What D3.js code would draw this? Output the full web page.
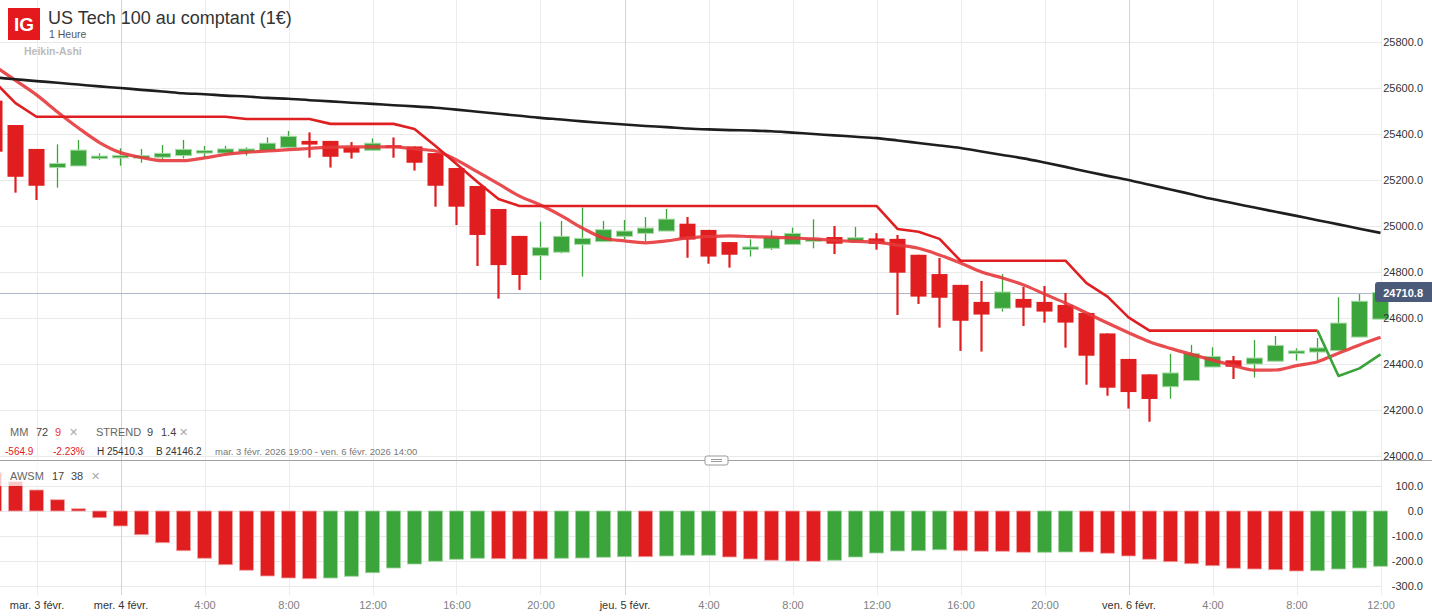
<!DOCTYPE html>
<html><head><meta charset="utf-8">
<script src="https://cdn.jsdelivr.net/npm/d3@7"></script>
<style>
html,body{margin:0;padding:0;background:#fff;overflow:hidden}
svg{display:block;font-family:"Liberation Sans",Arial,sans-serif}
</style></head><body>
<svg id="c" width="1432" height="616"></svg>
<script>
// ---------- data ----------
const firstCandle = Date.UTC(2026, 1, 3, 18); // mar. 3 févr. 18:00, one candle per hour
const opens  = [25545,25439,25335,25254,25261,25293,25297,25297,25299,25306,25317,25317,25322,25328,25342,25370,25370,25342,25329,25351,25346,25317,25252,25174,25074,24957,24871,24886,24920,24932,24955,24968,24978,25010,24983,24930,24902,24903,24920,24936,24952,24935,24946,24944,24875,24791,24744,24670,24642,24683,24670,24657,24622,24533,24422,24355,24301,24328,24387,24416,24400,24412,24446,24452,24458,24517,24595];
const highs  = [25545,25439,25335,25355,25374,25316,25338,25335,25352,25374,25348,25348,25342,25385,25413,25407,25370,25365,25381,25385,25346,25317,25252,25174,25074,24957,25019,25022,25080,25022,25026,25039,25074,25039,24983,24930,24942,24981,24993,25029,25000,24996,24969,24961,24875,24861,24744,24761,24791,24736,24739,24709,24622,24533,24422,24355,24444,24483,24473,24435,24504,24522,24468,24513,24690,24704,24711];
const lows   = [25323,25145,25113,25167,25261,25287,25262,25275,25287,25294,25299,25313,25306,25328,25342,25297,25254,25293,25329,25297,25241,25084,25004,24826,24684,24722,24765,24881,24780,24932,24943,24932,24978,24862,24836,24819,24867,24896,24920,24903,24878,24932,24897,24613,24661,24558,24457,24454,24628,24565,24580,24471,24310,24262,24206,24149,24249,24328,24387,24335,24341,24412,24415,24417,24458,24517,24595];
const closes = [25323,25214,25175,25272,25330,25304,25307,25306,25316,25333,25328,25335,25335,25360,25390,25354,25301,25319,25360,25341,25275,25175,25084,24961,24830,24787,24906,24955,24946,24984,24978,24991,25030,24941,24867,24875,24909,24951,24968,24944,24923,24949,24922,24797,24693,24688,24588,24615,24713,24645,24628,24580,24436,24297,24278,24248,24361,24446,24433,24388,24426,24481,24457,24470,24578,24673,24710.8];
const ma72   = [25646,25638,25630,25623,25615,25607,25600,25592,25585,25577,25573,25567,25563,25557,25553,25547,25542,25536,25531,25525,25520,25514,25506,25497,25488,25479,25470,25463,25455,25448,25441,25435,25430,25424,25420,25417,25415,25412,25406,25400,25394,25388,25382,25372,25361,25350,25339,25324,25309,25294,25276,25257,25237,25218,25200,25179,25159,25138,25117,25099,25080,25062,25044,25025,25007,24988,24970];
const ma9    = [25696,25633,25570,25496,25426,25363,25319,25298,25284,25284,25296,25311,25320,25326,25332,25337,25343,25344,25344,25344,25335,25326,25287,25235,25183,25130,25091,25044,24991,24948,24935,24927,24935,24948,24954,24957,24954,24952,24948,24944,24937,24933,24930,24917,24903,24874,24839,24800,24774,24744,24704,24665,24622,24578,24536,24497,24468,24442,24417,24393,24373,24374,24393,24410,24447,24483,24516];
const strend = [25627,25534,25475,25475,25475,25475,25475,25475,25475,25475,25475,25475,25465,25465,25465,25465,25444,25444,25444,25444,25422,25348,25270,25191,25117,25087,25087,25087,25087,25087,25087,25087,25087,25087,25087,25087,25087,25087,25087,25087,25087,25087,25087,24987,24975,24944,24849,24849,24849,24849,24849,24849,24752,24693,24603,24545,24545,24545,24545,24545,24545,24545,24545,24545,24348,24381,24442];
const strendFlip = 63; // supertrend turns bullish (green) after this candle
const awsm   = [154,117,84,45,9,-27,-60,-95,-127,-159,-189,-215,-237,-260,-268,-271,-268,-261,-247,-228,-212,-201,-193,-189,-191,-192,-192,-189,-188,-185,-183,-183,-180,-177,-177,-184,-192,-197,-200,-201,-197,-184,-168,-160,-159,-155,-159,-161,-161,-165,-165,-164,-164,-169,-180,-193,-203,-211,-219,-229,-232,-235,-240,-239,-232,-228,-221];
const awsmDir = "RRRRRRRRRRRRRRRR" + "GGGGGGGG" + "RRR" + "GGGG" + "R" + "GGG" + "RRRRR" + "GGGGGG" + "RRRR" + "GG" + "RRRRRRRRRRR" + "GGGG";
const priceTicks = [24000,24200,24400,24600,24800,25000,25200,25400,25600,25800];
const oscTicks = [100,0,-100,-200,-300];
const firstTick = Date.UTC(2026, 1, 3, 20);
const timeTickLabels = ["mar. 3 févr.","mer. 4 févr.","4:00","8:00","12:00","16:00","20:00","jeu. 5 févr.","4:00","8:00","12:00","16:00","20:00","ven. 6 févr.","4:00","8:00","12:00"];
const dayTickLabels = ["mer. 4 févr.","jeu. 5 févr.","ven. 6 févr."];
const lastPrice = 24710.8;

// ---------- setup ----------
const H = 3600e3;
const times = opens.map((_, i) => new Date(firstCandle + i * H));
const W = 1432;
const svg = d3.select("#c");
const RED = "#e01d1f", GREEN = "#3ba53b", GREEN_EDGE = "#a9dba9";

const x = d3.scaleTime().domain([times[0], times[times.length - 1]]).range([-5.5, 1380.5]);
const y = d3.scaleLinear().domain([24000, 26000]).range([456, -4]);
const yo = d3.scaleLinear().domain([-300, 100]).range([586, 486]);

const tickTimes = timeTickLabels.map((_, i) => new Date(firstTick + i * 4 * H));

// grid
const grid = svg.append("g");
grid.selectAll("line.h").data(priceTicks.concat([26000])).join("line")
  .attr("x1", 0).attr("x2", 1381).attr("y1", d => Math.round(y(d)) + 0.5).attr("y2", d => Math.round(y(d)) + 0.5)
  .attr("stroke", "#e9e9e9");
grid.selectAll("line.o").data(oscTicks).join("line")
  .attr("x1", 0).attr("x2", 1381).attr("y1", d => Math.round(yo(d)) + 0.5).attr("y2", d => Math.round(yo(d)) + 0.5)
  .attr("stroke", "#e9e9e9");
grid.selectAll("line.v").data(tickTimes).join("line")
  .attr("x1", d => Math.round(x(d)) + 0.5).attr("x2", d => Math.round(x(d)) + 0.5)
  .attr("y1", 0).attr("y2", 595)
  .attr("stroke", (d, i) => dayTickLabels.includes(timeTickLabels[i]) ? "#d3d3d3" : "#ececec");

// clips
svg.append("clipPath").attr("id", "mainclip").append("rect").attr("x", 0).attr("y", 0).attr("width", W).attr("height", 459);
svg.append("clipPath").attr("id", "oscclip").append("rect").attr("x", 0).attr("y", 461).attr("width", W).attr("height", 140);

const main = svg.append("g").attr("clip-path", "url(#mainclip)");

// last price line
main.append("line").attr("x1", 0).attr("x2", 1376)
  .attr("y1", Math.round(y(lastPrice)) + 0.5).attr("y2", Math.round(y(lastPrice)) + 0.5)
  .attr("stroke", "#aeb7c6").attr("stroke-width", 1);

// candles
const idx = d3.range(opens.length);
const bw = 16;
const cg = main.append("g");
cg.selectAll("line.w").data(idx).join("line")
  .attr("x1", i => x(times[i])).attr("x2", i => x(times[i]))
  .attr("y1", i => y(highs[i])).attr("y2", i => y(lows[i]))
  .attr("stroke", i => closes[i] >= opens[i] ? GREEN : RED)
  .attr("stroke-width", i => closes[i] >= opens[i] ? 1.3 : 2.2);
cg.selectAll("rect").data(idx).join("rect")
  .attr("x", i => x(times[i]) - bw / 2)
  .attr("width", bw)
  .attr("y", i => y(Math.max(opens[i], closes[i])))
  .attr("height", i => Math.max(2.5, Math.abs(y(opens[i]) - y(closes[i]))))
  .attr("fill", i => closes[i] >= opens[i] ? GREEN : RED)
  .attr("stroke", i => closes[i] >= opens[i] ? GREEN_EDGE : "none")
  .attr("stroke-width", 1);

// lines
const lineOf = arr => d3.line().curve(d3.curveMonotoneX).x((d, i) => x(times[i])).y(d => y(d))(arr);
main.append("path").attr("d", lineOf(ma9)).attr("fill", "none")
  .attr("stroke", "#e6393c").attr("stroke-opacity", 0.9).attr("stroke-width", 3.2).attr("stroke-linejoin", "round");
const stLine = d3.line().x(i => x(times[i])).y(i => y(strend[i]));
main.append("path").attr("d", stLine(idx.slice(0, strendFlip + 1))).attr("fill", "none")
  .attr("stroke", "#df1f22").attr("stroke-width", 2.6).attr("stroke-linejoin", "round");
main.append("path").attr("d", stLine(idx.slice(strendFlip))).attr("fill", "none")
  .attr("stroke", "#3aa33a").attr("stroke-width", 2.6).attr("stroke-linejoin", "round");
main.append("path").attr("d", lineOf(ma72)).attr("fill", "none")
  .attr("stroke", "#1e1e1e").attr("stroke-width", 2.6).attr("stroke-linejoin", "round");

// oscillator bars
const osc = svg.append("g").attr("clip-path", "url(#oscclip)");
const obw = 15;
osc.selectAll("rect").data(idx).join("rect")
  .attr("x", i => x(times[i]) - obw / 2 + 0.5)
  .attr("width", obw - 1)
  .attr("y", i => Math.min(yo(0), yo(awsm[i])))
  .attr("height", i => Math.abs(yo(awsm[i]) - yo(0)))
  .attr("fill", i => awsmDir[i] === "G" ? GREEN : RED)
  .attr("stroke", i => awsmDir[i] === "G" ? "#9fd59f" : "#f3a5a5")
  .attr("stroke-width", 0.8);

// panel divider
svg.append("line").attr("x1", 0).attr("x2", W).attr("y1", 460.5).attr("y2", 460.5).attr("stroke", "#a3a3a3");
const hd = svg.append("g").attr("transform", "translate(705,456)");
hd.append("rect").attr("width", 23).attr("height", 9).attr("rx", 2).attr("fill", "#fff").attr("stroke", "#9a9a9a");
hd.append("line").attr("x1", 6).attr("x2", 17).attr("y1", 3.5).attr("y2", 3.5).attr("stroke", "#9a9a9a");
hd.append("line").attr("x1", 6).attr("x2", 17).attr("y1", 5.5).attr("y2", 5.5).attr("stroke", "#9a9a9a");

// axes (labels)
const yAxis = d3.axisRight(y).tickValues(priceTicks).tickFormat(d3.format(".1f")).tickSize(0).tickPadding(0);
const ya = svg.append("g").attr("transform", "translate(1423,0)").call(yAxis);
ya.select(".domain").remove();
ya.selectAll("text").attr("text-anchor", "end").attr("font-size", 11).attr("fill", "#333").attr("font-family", "Liberation Sans, Arial, sans-serif");

const oAxis = d3.axisRight(yo).tickValues(oscTicks).tickFormat(d3.format(".1f")).tickSize(0).tickPadding(0);
const oa = svg.append("g").attr("transform", "translate(1423,0)").call(oAxis);
oa.select(".domain").remove();
oa.selectAll("text").attr("text-anchor", "end").attr("font-size", 11).attr("fill", "#333").attr("font-family", "Liberation Sans, Arial, sans-serif")
  .text(d => d3.format(".1f")(d).replace("−", "-"));

const xAxis = d3.axisBottom(x).tickValues(tickTimes).tickFormat((d, i) => timeTickLabels[i]).tickSize(0).tickPadding(0);
const xa = svg.append("g").attr("transform", "translate(0,601)").call(xAxis);
xa.select(".domain").remove();
xa.selectAll("text").attr("font-size", 11).attr("font-family", "Liberation Sans, Arial, sans-serif")
  .attr("fill", (d, i) => /févr/.test(timeTickLabels[i]) ? "#333" : "#808080");

// last price tag
const tag = svg.append("g");
tag.append("rect").attr("x", 1375).attr("y", y(lastPrice) - 10.5).attr("width", 60).attr("height", 20).attr("rx", 3).attr("fill", "#4b5a78");
tag.append("text").attr("x", 1423).attr("y", y(lastPrice) + 4).attr("text-anchor", "end")
  .attr("font-size", 11).attr("font-weight", "bold").attr("fill", "#fff").text(d3.format(".1f")(lastPrice));

// header
svg.append("rect").attr("x", 8).attr("y", 8).attr("width", 32).attr("height", 32).attr("fill", "#e3191e");
svg.append("text").attr("x", 24).attr("y", 31).attr("text-anchor", "middle").attr("font-size", 19).attr("font-weight", "bold").attr("fill", "#fff").text("IG");
svg.append("text").attr("x", 48).attr("y", 24).attr("font-size", 18).attr("fill", "#333").text("US Tech 100 au comptant (1€)");
svg.append("text").attr("x", 49).attr("y", 38).attr("font-size", 10.5).attr("fill", "#555").text("1 Heure");
svg.append("text").attr("x", 24).attr("y", 55).attr("font-size", 10.5).attr("font-weight", "bold").attr("fill", "#bbb").text("Heikin-Ashi");

// legends
function spans(g, items) {
  const t = g.append("text");
  items.forEach(it => t.append("tspan").attr("x", it[0]).attr("fill", it[2]).text(it[1]));
  return t;
}
const lg = svg.append("g").attr("font-size", 11);
spans(lg, [[10, "MM", "#666"], [36, "72", "#444"], [55, "9", "#e33"], [69, "✕", "#aaa"], [96, "STREND", "#666"], [147, "9", "#444"], [161, "1.4", "#444"], [179, "✕", "#aaa"]]).attr("y", 436);
spans(lg, [[5, "-564.9", "#e0201f"], [53, "-2.23%", "#e0201f"], [97, "H 25410.3", "#333"], [156, "B 24146.2", "#333"]]).attr("y", 455).attr("font-size", 10);
lg.append("text").attr("x", 215).attr("y", 455).attr("font-size", 9.5).attr("fill", "#777")
  .text("mar. 3 févr. 2026 19:00 - ven. 6 févr. 2026 14:00");

svg.append("rect").attr("x", 0).attr("y", 461).attr("width", 106).attr("height", 25).attr("fill", "#fff").attr("fill-opacity", 0.75);
spans(svg.append("g").attr("font-size", 11), [[10, "AWSM", "#666"], [52, "17", "#444"], [71, "38", "#444"], [91, "✕", "#aaa"]]).attr("y", 480);
</script></body></html>
